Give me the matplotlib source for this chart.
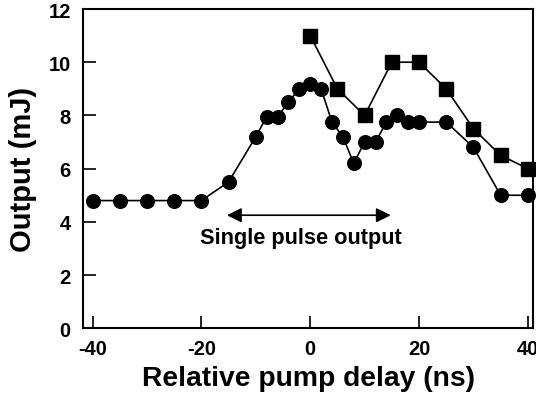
import matplotlib
matplotlib.use("Agg")
import matplotlib.pyplot as plt

# === DATA ===
delay_circ = [-40, -35, -30, -25, -20, -15, -10, -8, -6, -4, -2, 0, 2, 4, 6, 8,
              10, 12, 14, 16, 18, 20, 25, 30, 35, 40]
out_circ = [4.8, 4.8, 4.8, 4.8, 4.8, 5.5, 7.2, 7.95, 7.95, 8.5, 9.0, 9.2, 9.0,
            7.75, 7.2, 6.2, 7.0, 7.0, 7.75, 8.0, 7.75, 7.75, 7.75, 6.8, 5.0, 5.0]
delay_sq = [0, 5, 10, 15, 20, 25, 30, 35, 40]
out_sq = [11.0, 9.0, 8.0, 10.0, 10.0, 9.0, 7.5, 6.5, 6.0]
xticks = [-40, -20, 0, 20, 40]
yticks = [0, 2, 4, 6, 8, 10, 12]

plt.rcParams["font.family"] = ["Liberation Sans", "DejaVu Sans"]
plt.rcParams["font.weight"] = "bold"
plt.rcParams["axes.unicode_minus"] = False

fig = plt.figure(figsize=(5.36, 4.02), dpi=100)
ax = fig.add_axes([83.3 / 536, (402 - 329.3) / 402, (533.3 - 83.3) / 536, (329.3 - 10) / 402])

ax.plot(delay_circ, out_circ, "-o", color="black", lw=1.2, ms=9.8, clip_on=False, zorder=3)
ax.plot(delay_sq, out_sq, "-s", color="black", lw=1.2, ms=10.2, clip_on=False, zorder=3)

ax.set_xlim(-41.7, 41.0)
ax.set_ylim(0, 12)
ax.set_xticks(xticks)
ax.set_yticks(yticks)
ax.tick_params(direction="in", length=9, width=1.2, labelsize=14.5)
ax.tick_params(axis="x", pad=7.5)
ax.tick_params(axis="y", pad=9)
for s in ax.spines.values():
    s.set_linewidth(1.5)

ax.set_xlabel("Relative pump delay (ns)", fontsize=20.3, fontweight="bold", labelpad=5)
ax.set_ylabel("Output (mJ)", fontsize=21, fontweight="bold", labelpad=8)

# arrow + annotation
ax.annotate("", xy=(-15.3, 4.25), xytext=(14.8, 4.25),
            arrowprops=dict(arrowstyle="<|-|>", color="black", lw=1.2,
                            mutation_scale=22, shrinkA=0, shrinkB=0))
ax.text(-1.7, 3.4, "Single pulse output", ha="center", va="center",
        fontsize=15.7, fontweight="bold")

fig.savefig("out.png", dpi=100)
